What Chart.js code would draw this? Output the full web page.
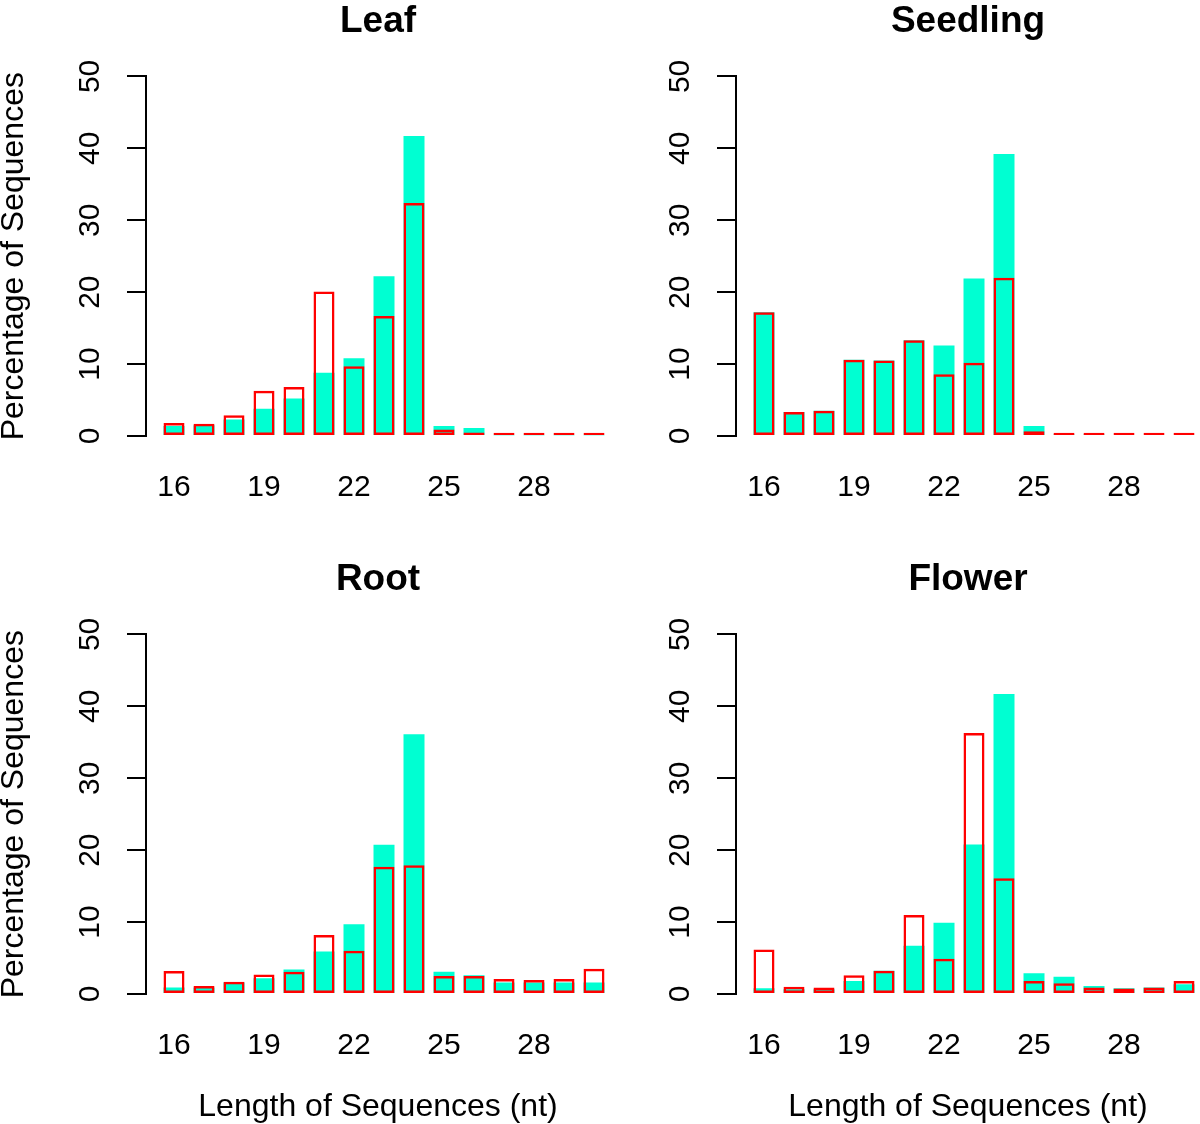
<!DOCTYPE html>
<html>
<head>
<meta charset="utf-8">
<script src="https://cdn.jsdelivr.net/npm/chart.js@4.4.1/dist/chart.umd.min.js"></script>
<style>
  body { margin: 0; background: #fff; width: 1200px; height: 1124px; position: relative; overflow: hidden; }
  canvas { position: absolute; }
</style>
</head>
<body>
<canvas id="leaf" width="610" height="562" style="left:0;top:0"></canvas>
<canvas id="seedling" width="610" height="562" style="left:590px;top:0"></canvas>
<canvas id="root" width="610" height="566" style="left:0;top:558px"></canvas>
<canvas id="flower" width="610" height="566" style="left:590px;top:558px"></canvas>
<script>
//////////////////////
// Data
//////////////////////
const lengths = [16, 17, 18, 19, 20, 21, 22, 23, 24, 25, 26, 27, 28, 29, 30];
const xTicks = [16, 19, 22, 25, 28];
const yTicks = [0, 10, 20, 30, 40, 50];

// filled (cyan) and outlined (red) bars per tissue
const leafFilled     = [1.4, 1.5, 2.3, 3.8, 5.2, 8.8, 10.8, 22.2, 41.7, 1.4, 1.1, 0.1, 0.1, 0.1, 0.1];
const leafOutline    = [1.8, 1.7, 2.9, 6.3, 6.8, 20.1, 9.7, 16.7, 32.4, 0.9, 0.5, 0.45, 0.45, 0.45, 0.45];
const seedlingFilled = [17.2, 3.35, 3.5, 10.6, 10.5, 13.3, 12.6, 21.9, 39.2, 1.4, 0.2, 0.2, 0.15, 0.15, 0.15];
const seedlingOutline= [17.2, 3.35, 3.5, 10.6, 10.5, 13.3, 8.6, 10.2, 22.0, 0.65, 0.45, 0.45, 0.45, 0.45, 0.45];
const rootFilled     = [0.9, 0.9, 1.6, 2.2, 3.4, 5.9, 9.7, 20.75, 36.1, 3.1, 2.6, 1.6, 1.6, 1.6, 1.6];
const rootOutline    = [3.2, 1.1, 1.7, 2.7, 3.1, 8.2, 6.0, 17.7, 17.9, 2.5, 2.5, 2.1, 1.95, 2.1, 3.5];
const flowerFilled   = [0.8, 0.65, 0.65, 1.8, 3.25, 6.7, 9.9, 20.8, 41.7, 2.9, 2.4, 1.1, 0.8, 0.9, 1.35];
const flowerOutline  = [6.2, 1.0, 0.9, 2.6, 3.25, 11.0, 4.9, 36.3, 16.1, 1.8, 1.5, 0.9, 0.75, 0.9, 1.8];

const FONT = '"Liberation Sans", Arial, sans-serif';

//////////////////////
// Rotated y tick labels (R style)
//////////////////////
const rotatedYTicks = {
  id: 'rotatedYTicks',
  afterDraw(chart) {
    const y = chart.scales.y;
    const ctx = chart.ctx;
    ctx.save();
    ctx.font = '30px ' + FONT;
    ctx.fillStyle = '#000';
    ctx.textAlign = 'center';
    ctx.textBaseline = 'middle';
    yTicks.forEach(v => {
      ctx.save();
      ctx.translate(y.right - 55, y.getPixelForValue(v));
      ctx.rotate(-Math.PI / 2);
      ctx.fillText(String(v), 0, 0);
      ctx.restore();
    });
    ctx.restore();
  }
};

//////////////////////
// Build one panel
//////////////////////
function makePanel(id, title, filled, outline, showXTitle, showYTitle) {
  const canvas = document.getElementById(id);
  const h = canvas.height;

  new Chart(canvas, {
    type: 'bar',
    data: {
      datasets: [
        {
          label: 'outline',
          data: lengths.map((x, i) => ({ x: x, y: outline[i] })),
          backgroundColor: 'rgba(0,0,0,0)',
          borderColor: '#FF0000',
          borderWidth: 2.5,
          borderSkipped: false,
          order: 0
        },
        {
          label: 'filled',
          data: lengths.map((x, i) => ({ x: x, y: filled[i] })),
          backgroundColor: '#00FFD2',
          borderWidth: 0,
          order: 1
        }
      ]
    },
    options: {
      responsive: false,
      animation: false,
      devicePixelRatio: 1,
      layout: { padding: 0 },
      datasets: { bar: { grouped: false, barPercentage: 0.7, categoryPercentage: 1 } },
      plugins: {
        legend: { display: false },
        tooltip: { enabled: false },
        title: {
          display: true,
          text: title,
          color: '#000',
          fullSize: false,
          font: { family: FONT, size: 37, weight: 'bold', lineHeight: 1.2 },
          padding: { top: 0, bottom: 32 }
        }
      },
      scales: {
        x: {
          type: 'linear',
          offset: false,
          min: 15.0667,
          max: 30.533,
          afterBuildTicks: s => { s.ticks = xTicks.map(v => ({ value: v })); },
          afterFit: s => { s.height = h - 436; },
          grid: { display: false, drawTicks: false },
          border: { display: false },
          ticks: { color: '#000', font: { family: FONT, size: 30 }, padding: 34, maxRotation: 0 },
          title: {
            display: showXTitle,
            text: 'Length of Sequences (nt)',
            color: '#000',
            font: { family: FONT, size: 32, lineHeight: 1 },
            padding: { top: 0, bottom: 1 }
          }
        },
        y: {
          min: 0,
          max: 50,
          afterFit: s => { s.width = 146; },
          ticks: { display: false, stepSize: 10 },
          grid: { drawOnChartArea: false, drawTicks: true, tickLength: 19, color: '#000', lineWidth: 2 },
          border: { display: true, color: '#000', width: 2 },
          title: {
            display: showYTitle,
            text: 'Percentage of Sequences',
            color: '#000',
            font: { family: FONT, size: 32, lineHeight: 0.9 },
            padding: 0
          }
        }
      }
    },
    plugins: [rotatedYTicks]
  });
}

//////////////////////
// Draw all four
//////////////////////
makePanel('leaf', 'Leaf', leafFilled, leafOutline, false, true);
makePanel('seedling', 'Seedling', seedlingFilled, seedlingOutline, false, false);
makePanel('root', 'Root', rootFilled, rootOutline, true, true);
makePanel('flower', 'Flower', flowerFilled, flowerOutline, true, false);
</script>
</body>
</html>
